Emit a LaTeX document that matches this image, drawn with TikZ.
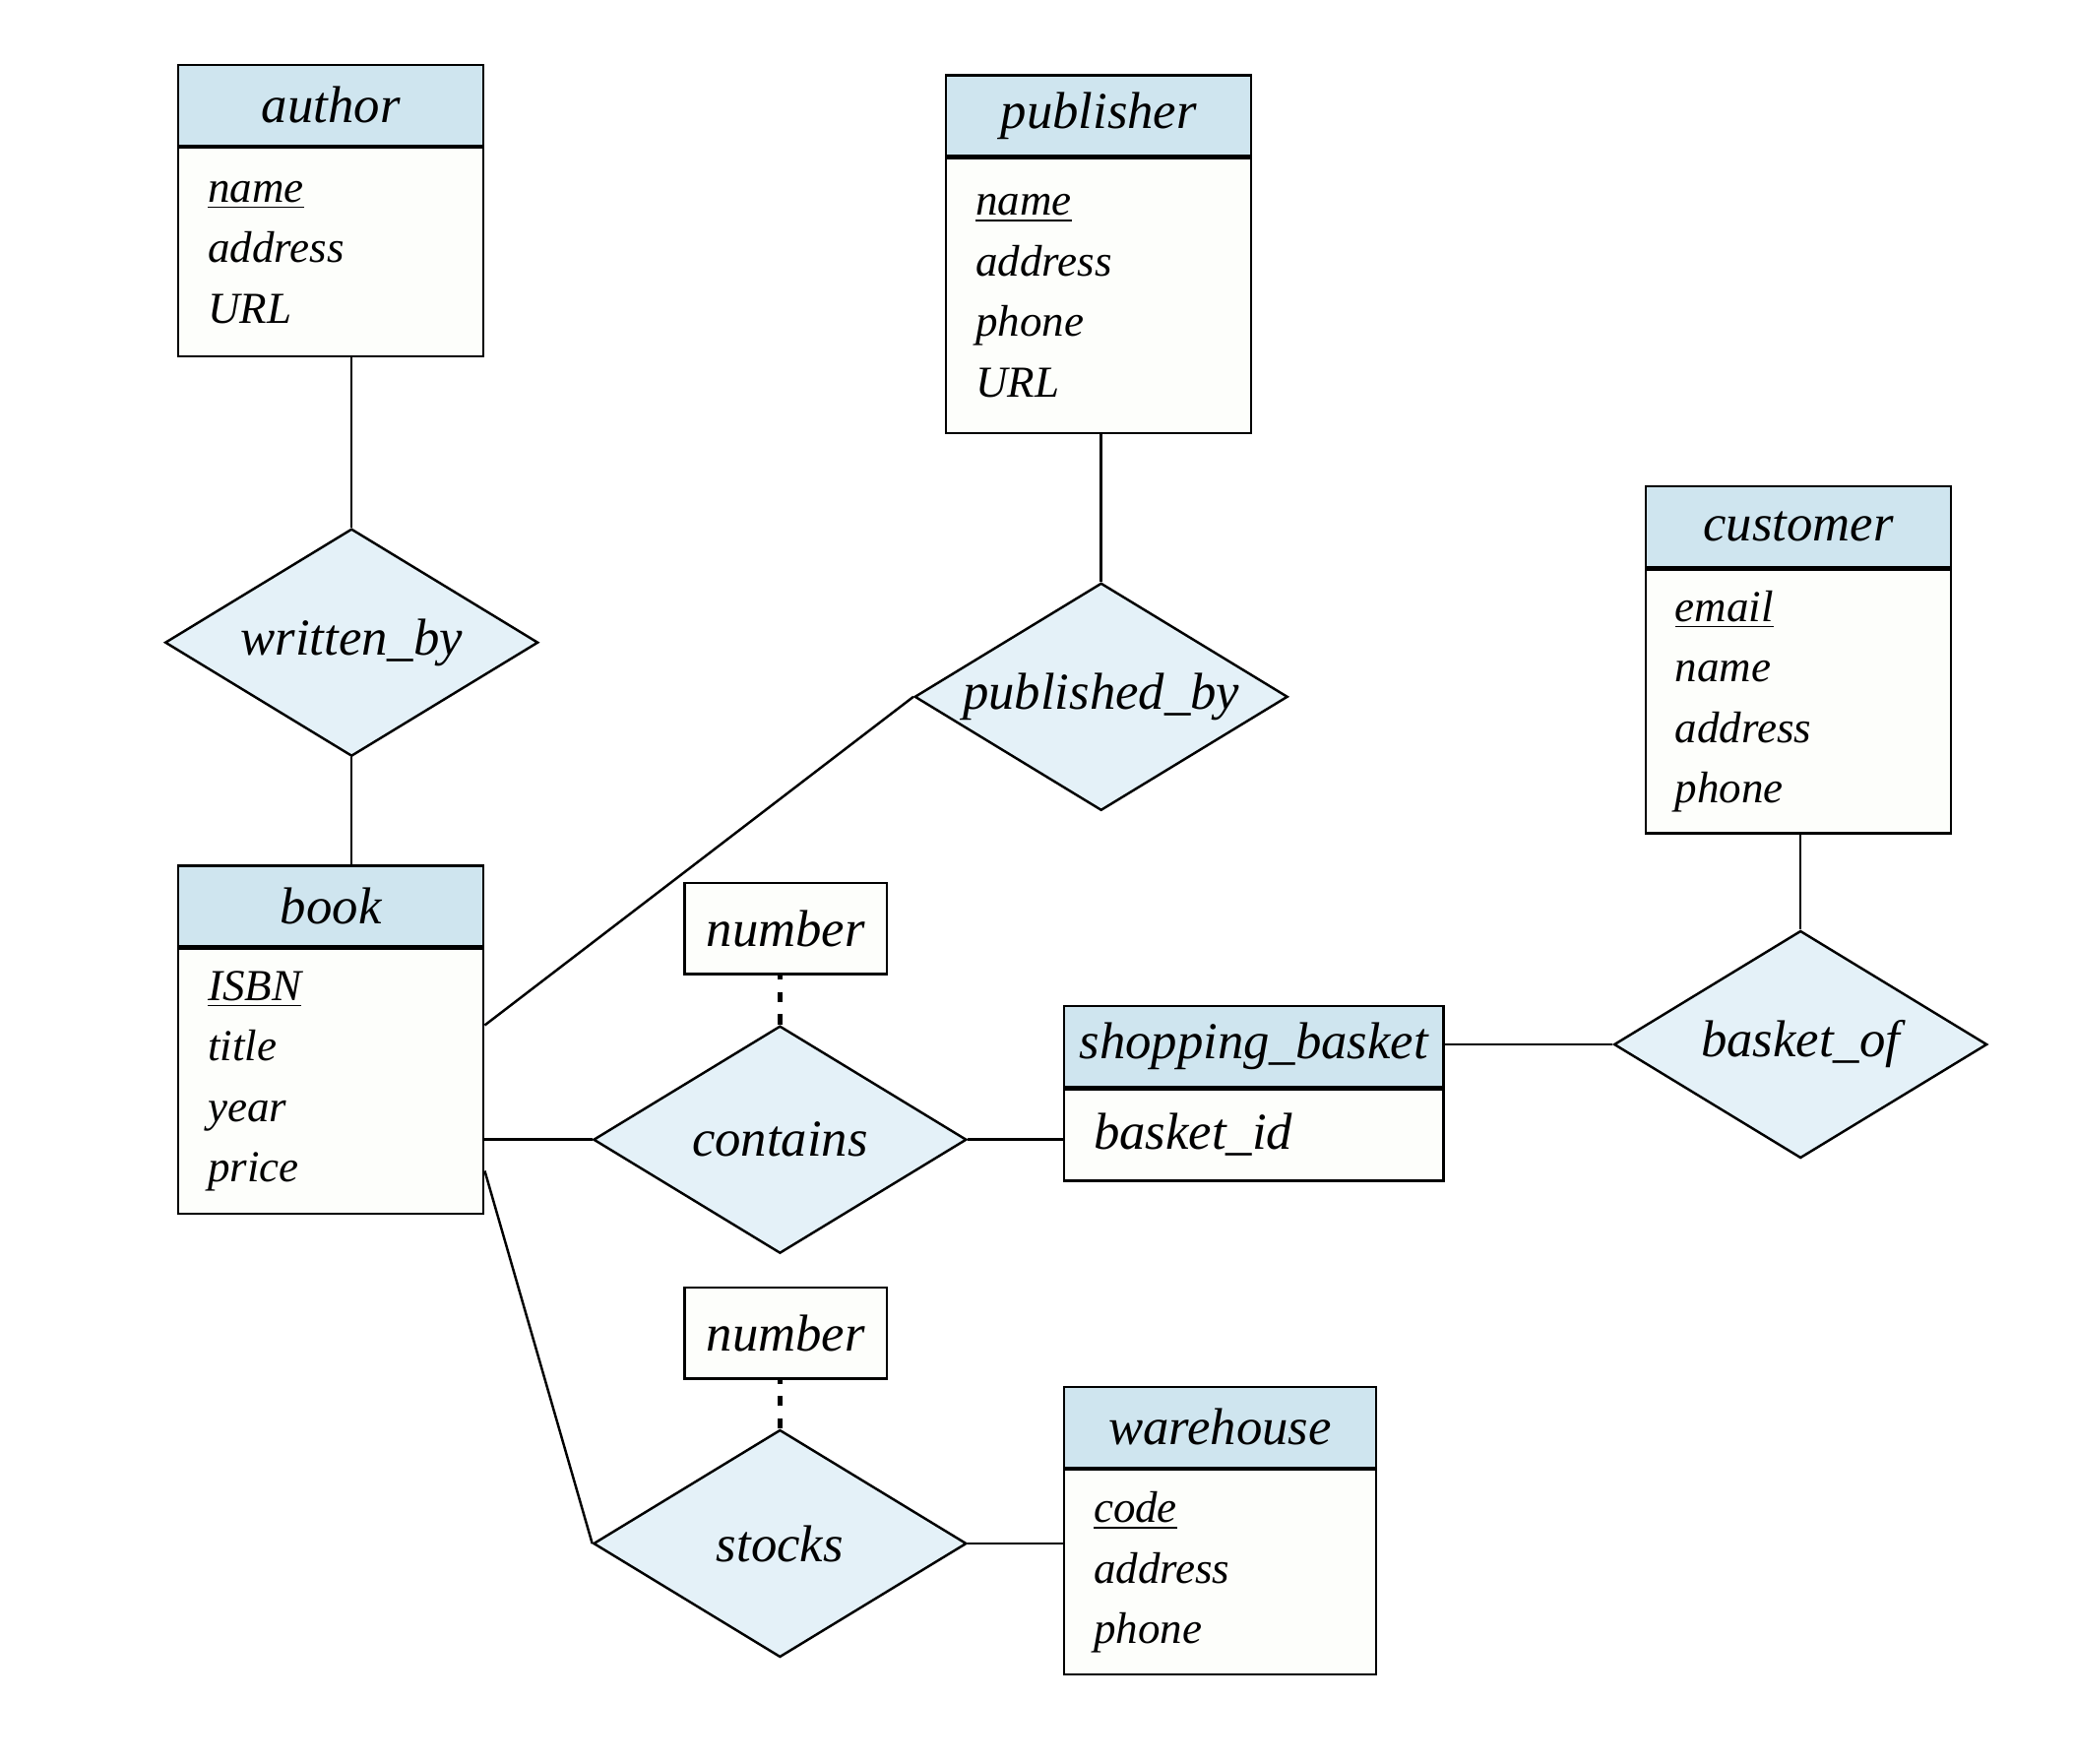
\documentclass[tikz,border=0pt]{standalone}
\usepackage{fontspec}
\setmainfont{Liberation Serif}
\usetikzlibrary{positioning, shapes.geometric, calc}
\definecolor{headblue}{RGB}{207,229,239}
\definecolor{relblue}{RGB}{228,241,248}
\definecolor{bodywhite}{RGB}{253,254,251}

\begin{document}
\begin{tikzpicture}[line width=0.7pt,
  ehead/.style={draw, fill=headblue, minimum width=3.1cm, minimum height=0.82cm, inner sep=0pt,
                anchor=north west, font=\fontsize{15}{18}\selectfont\itshape},
  ebody/.style={draw, fill=bodywhite, text width=#1, align=left, inner xsep=0.3cm, inner ysep=0pt,
                font=\fontsize{12.8}{17.5}\selectfont\itshape},
  ebody/.default=2.5cm,
  rel/.style={diamond, draw, fill=relblue, aspect=1.64, minimum width=3.79cm, minimum height=2.31cm,
              inner sep=0pt, font=\fontsize{15}{18}\selectfont\itshape},
  attr/.style={draw, fill=bodywhite, minimum width=2.055cm, minimum height=0.926cm, inner sep=0pt,
               anchor=north west, font=\fontsize{15}{18}\selectfont\itshape},
  dotline/.style={line width=1.3pt, dash pattern=on 3pt off 3.5pt}]
  \useasboundingbox (0,0) rectangle (21.06,-17.92);

  % entity sets
  \node[ehead] (author) at (1.80,-0.645) {author};
  \node[ebody, minimum height=2.12cm, below=0pt of author] (author-a) {%
    \underline{name}\\ address\\ URL};
  \node[ehead] (publisher) at (9.60,-0.752) {publisher};
  \node[ebody, minimum height=2.79cm, below=0pt of publisher] (publisher-a) {%
    \underline{name}\\ address\\ phone\\ URL};
  \node[ehead] (customer) at (16.707,-4.93) {customer};
  \node[ebody, minimum height=2.68cm, below=0pt of customer] (customer-a) {%
    \underline{email}\\ name\\ address\\ phone};
  \node[ehead] (book) at (1.80,-8.783) {book};
  \node[ebody, minimum height=2.69cm, below=0pt of book] (book-a) {%
    \underline{ISBN}\\ title\\ year\\ price};
  \node[ehead, minimum width=3.854cm] (basket) at (10.798,-10.207) {shopping\_basket};
  \node[ebody=3.254cm, minimum height=0.93cm, below=0pt of basket,
        font=\fontsize{15}{18}\selectfont\itshape] (basket-a) {basket\_id};
  \node[ehead, minimum width=3.169cm] (warehouse) at (10.798,-14.075) {warehouse};
  \node[ebody=2.569cm, minimum height=2.08cm, below=0pt of warehouse] (warehouse-a) {%
    \underline{code}\\ address\\ phone};

  % relationship attributes
  \node[attr] (num1) at (6.943,-8.958) {number};
  \node[attr] (num2) at (6.943,-13.067) {number};

  % relationship sets
  \node[rel] (writtenby) at (3.572,-6.527) {written\_by};
  \node[rel] (publishedby) at (11.187,-7.078) {published\_by};
  \node[rel] (contains) at (7.924,-11.577) {contains};
  \node[rel] (stocks) at (7.924,-15.68) {stocks};
  \node[rel] (basketof) at (18.292,-10.61) {basket\_of};

  \draw (writtenby.north) -- (writtenby.north |- author-a.south);
  \draw (writtenby.south) -- (writtenby.south |- book.north);
  \draw (publishedby.north) -- (publishedby.north |- publisher-a.south);
  \draw ($(book-a.north east)!0.29!(book-a.south east)$) -- (publishedby.west);
  \draw (contains.west -| book-a.east) -- (contains.west);
  \draw (contains.east) -- (contains.east -| basket-a.west);
  \draw ($(book-a.north east)!0.835!(book-a.south east)$) -- (stocks.west);
  \draw (stocks.east) -- (stocks.east -| warehouse-a.west);
  \draw (basketof.west -| basket.east) -- (basketof.west);
  \draw (basketof.north) -- (basketof.north |- customer-a.south);
  \draw[dotline] (contains.north) -- (contains.north |- num1.south);
  \draw[dotline] (stocks.north) -- (stocks.north |- num2.south);
\end{tikzpicture}
\end{document}
